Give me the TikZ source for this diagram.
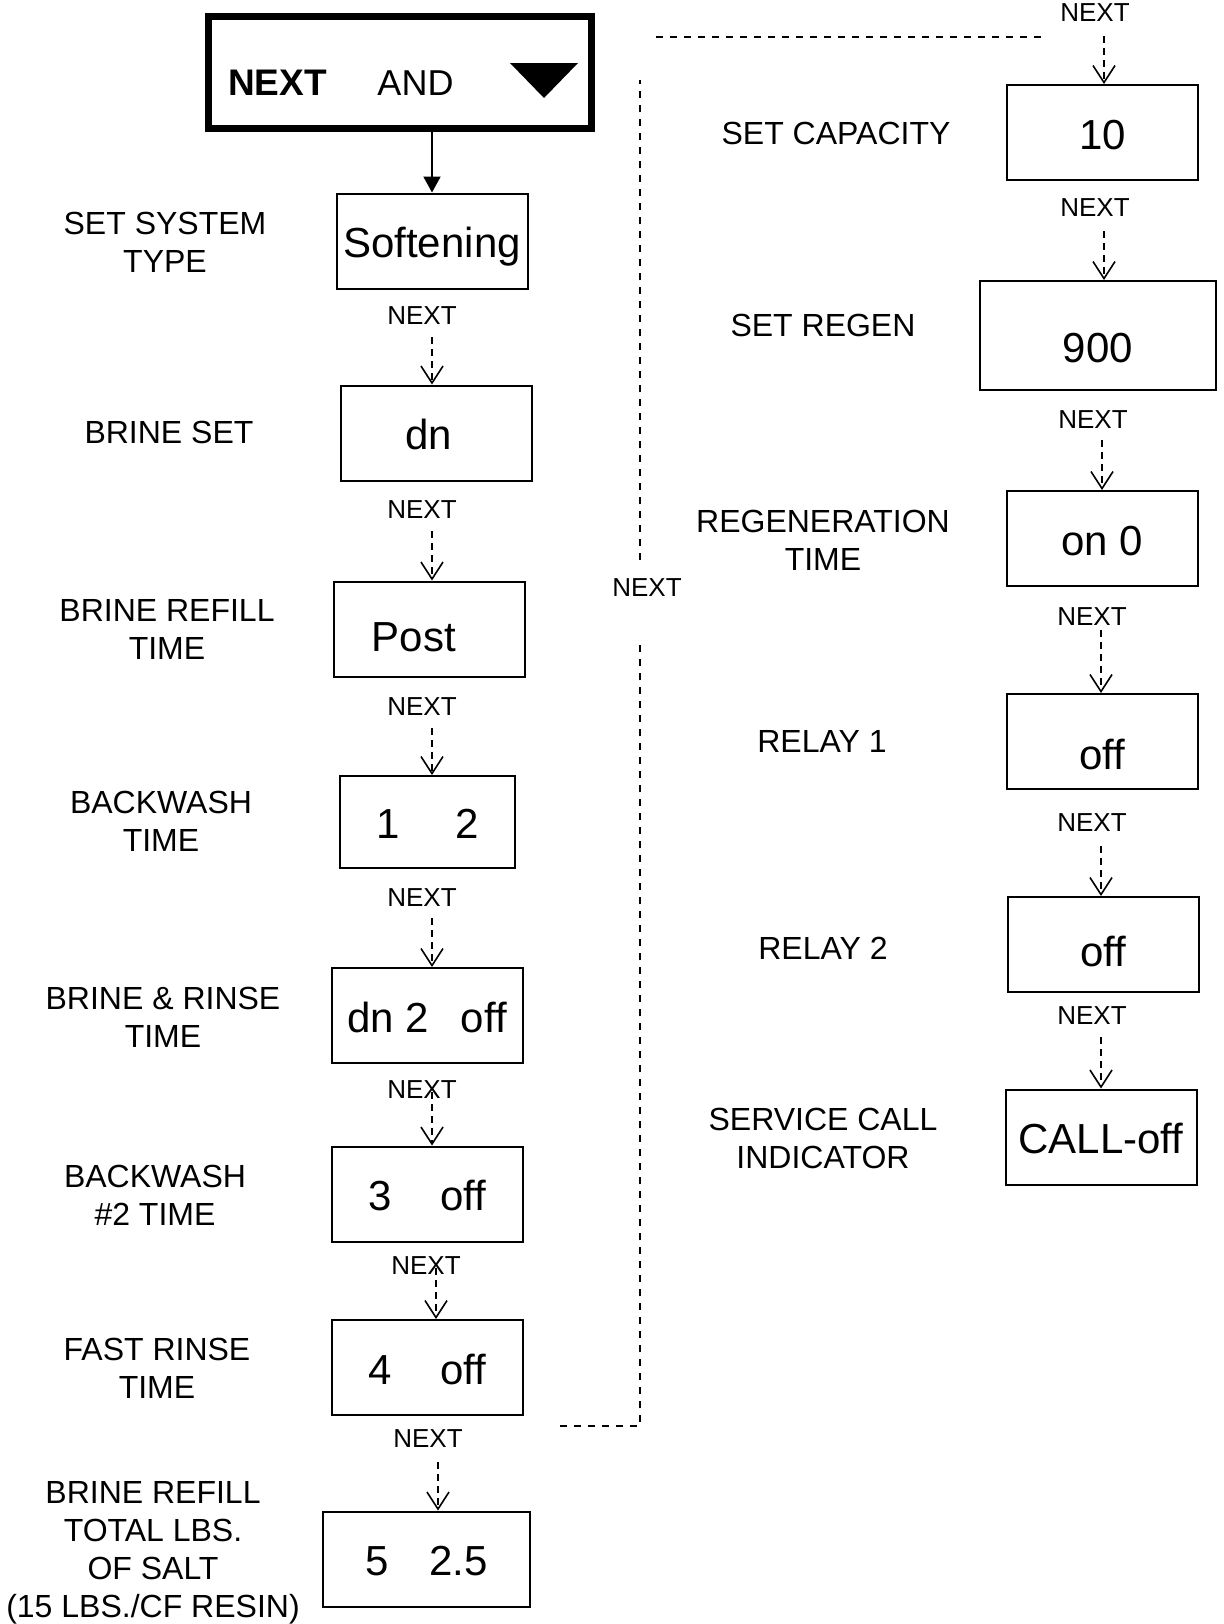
\documentclass[tikz,border=0pt]{standalone}
\usepackage{fontspec}
\setmainfont{Liberation Sans}
\usetikzlibrary{arrows.meta}

\begin{document}
\begin{tikzpicture}[x=0.5pt, y=-0.5pt,
    lcd/.style={draw, line width=1pt, inner sep=0pt, minimum width=95.5pt,
      minimum height=47.5pt, font=\fontsize{21}{25}\selectfont,
      text height=20pt, text depth=3.4pt},
    lbl/.style={align=center, inner sep=0pt, font=\fontsize{16}{19}\selectfont},
    nxt/.style={inner sep=0pt, font=\fontsize{13}{15}\selectfont},
    go/.style={line width=0.9pt, dash pattern=on 3.5pt off 2.5pt,
      -{Straight Barb[length=8.5pt,width=11pt,line width=0.8pt]}},
    back/.style={line width=1.1pt, dash pattern=on 3.5pt off 3.5pt}]
  \useasboundingbox (0,0) rectangle (1224,1624);

  % key box
  \node[draw, line width=3.5pt, inner sep=0pt, minimum width=191.5pt,
    minimum height=56pt] (start) at (400,72.5) {};
  \node[anchor=base, inner sep=0pt, font=\bfseries\fontsize{18.5}{22}\selectfont]
    (key1) at (277.5,95) {NEXT};
  \node[anchor=base, inner sep=0pt, font=\fontsize{18}{22}\selectfont]
    (key2) at (415.5,95) {AND};
  \fill (510,63) -- (578,63) -- (544,98) -- cycle;

  % left column
  \node[lcd] (soft) at (432,241) {Softening};
  \node[lcd] (dn) at (436,433) {dn\hspace*{7.5pt}};
  \node[lcd, text height=25pt, text depth=3pt] (post) at (429.5,629) {Post\hspace*{15.5pt}};
  \node[lcd, minimum width=87.5pt, minimum height=46pt] (bw1) at (427.5,822) {1\hspace{28pt}2};
  \node[lcd] (brr) at (427,1015.5) {dn 2\hspace{16pt}off};
  \node[lcd] (bw2) at (427.5,1194) {3\hspace{24pt}off};
  \node[lcd] (fr) at (427.5,1367.5) {4\hspace{24pt}off};
  \node[lcd, minimum width=103.5pt] (salt) at (426.5,1559) {5\hspace{20.5pt}2.5};

  \node[lbl] (t1) at (165,242) {SET SYSTEM\\TYPE};
  \node[lbl] (t2) at (169,432) {BRINE SET};
  \node[lbl] (t3) at (167,629) {BRINE REFILL\\TIME};
  \node[lbl] (t4) at (161,821) {BACKWASH\\TIME};
  \node[lbl] (t5) at (163,1017) {BRINE \& RINSE\\TIME};
  \node[lbl] (t6) at (155,1195) {BACKWASH\\\#2 TIME};
  \node[lbl] (t7) at (157,1368) {FAST RINSE\\TIME};
  \node[lbl] (t8) at (153,1553) {BRINE REFILL\\TOTAL LBS.\\OF SALT\\(15 LBS./CF RESIN)};

  % right column
  \node[lcd] (cap) at (1102.5,132.5) {10};
  \node[lcd, minimum width=118pt, minimum height=54.5pt, text height=27pt,
    text depth=0.5pt] (regen) at (1098,335.5) {900};
  \node[lcd] (rtime) at (1102.5,538.5) {on 0};
  \node[lcd, text height=28pt, text depth=0.5pt] (relay1) at (1102.5,741.5) {off};
  \node[lcd, text height=25pt, text depth=3pt] (relay2) at (1103.5,944.5) {off};
  \node[lcd] (call) at (1101,1137) {CALL-off};

  \node[lbl] (t9) at (836,133) {SET CAPACITY};
  \node[lbl] (t10) at (823,325) {SET REGEN};
  \node[lbl] (t11) at (823,540) {REGENERATION\\TIME};
  \node[lbl] (t12) at (822,741) {RELAY 1};
  \node[lbl] (t13) at (823,948) {RELAY 2};
  \node[lbl] (t14) at (823,1138) {SERVICE CALL\\INDICATOR};

  % NEXT keys
  \node[nxt] (n1) at (422,316) {NEXT};
  \node[nxt] (n2) at (422,510) {NEXT};
  \node[nxt] (n3) at (422,707) {NEXT};
  \node[nxt] (n4) at (422,898) {NEXT};
  \node[nxt] (n5) at (422,1090) {NEXT};
  \node[nxt] (n6) at (426,1266) {NEXT};
  \node[nxt] (n7) at (428,1439) {NEXT};
  \node[nxt] (nb) at (647,588) {NEXT};
  \node[nxt] (n8) at (1095,13) {NEXT};
  \node[nxt] (n9) at (1095,208) {NEXT};
  \node[nxt] (n10) at (1093,420) {NEXT};
  \node[nxt] (n11) at (1092,617) {NEXT};
  \node[nxt] (n12) at (1092,823) {NEXT};
  \node[nxt] (n13) at (1092,1016) {NEXT};

  % arrows
  \draw[line width=1pt, -{Triangle[length=8pt,width=8.5pt]}]
    (start.south -| soft.north) -- (soft.north);

  \coordinate (s1) at (432,337);
  \coordinate (s2) at (432,531);
  \coordinate (s3) at (432,728);
  \coordinate (s4) at (432,918);
  \coordinate (s5) at (432,1092);
  \coordinate (s6) at (436,1268);
  \coordinate (s7) at (438,1462);
  \draw[go] (s1) -- (s1 |- dn.north);
  \draw[go] (s2) -- (s2 |- post.north);
  \draw[go] (s3) -- (s3 |- bw1.north);
  \draw[go] (s4) -- (s4 |- brr.north);
  \draw[go] (s5) -- (s5 |- bw2.north);
  \draw[go] (s6) -- (s6 |- fr.north);
  \draw[go] (s7) -- (s7 |- salt.north);

  \coordinate (s8) at (1104,36);
  \coordinate (s9) at (1104,231);
  \coordinate (s10) at (1102,440);
  \coordinate (s11) at (1101,630);
  \coordinate (s12) at (1101,846);
  \coordinate (s13) at (1101,1037);
  \draw[go] (s8) -- (s8 |- cap.north);
  \draw[go] (s9) -- (s9 |- regen.north);
  \draw[go] (s10) -- (s10 |- rtime.north);
  \draw[go] (s11) -- (s11 |- relay1.north);
  \draw[go] (s12) -- (s12 |- relay2.north);
  \draw[go] (s13) -- (s13 |- call.north);

  % way back to the top
  \coordinate (b1) at (560,1426);
  \coordinate (b2) at (640,1426);
  \coordinate (b3) at (640,642);
  \coordinate (b4) at (640,560);
  \coordinate (b5) at (640,80);
  \coordinate (b6) at (656,37);
  \coordinate (b7) at (1042,37);
  \draw[back] (b1) -- (b2) -- (b3);
  \draw[back] (b4) -- (b5);
  \draw[back] (b6) -- (b7);
\end{tikzpicture}
\end{document}
